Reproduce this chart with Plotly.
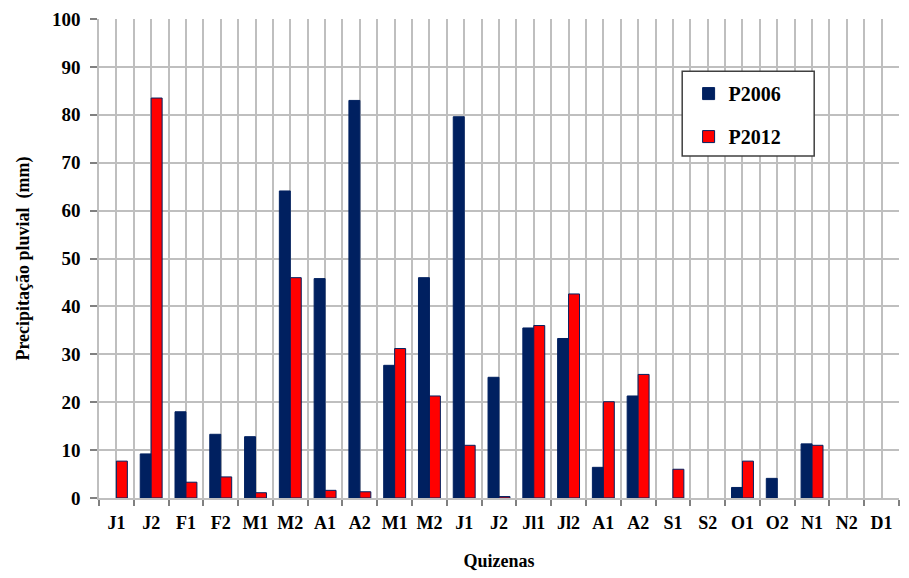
import plotly.graph_objects as go

labels = ["J1", "J2", "F1", "F2", "M1", "M2", "A1", "A2", "M1", "M2", "J1", "J2",
          "Jl1", "Jl2", "A1", "A2", "S1", "S2", "O1", "O2", "N1", "N2", "D1"]
p2006 = [None, 9.2, 18.0, 13.3, 12.8, 64.1, 45.8, 83.0, 27.7, 46.0, 79.6, 25.2,
         35.5, 33.3, 6.4, 21.3, None, None, 2.2, 4.1, 11.3, None, None]
p2012 = [7.7, 83.5, 3.3, 4.4, 1.1, 46.0, 1.6, 1.3, 31.2, 21.3, 11.0, 0.3,
         36.0, 42.6, 20.1, 25.8, 6.0, None, 7.7, None, 11.0, None, None]
y_ticks = [0, 10, 20, 30, 40, 50, 60, 70, 80, 90, 100]

idx = list(range(len(labels)))
FONT = "Liberation Serif"
NAVY = "#002060"
RED = "#FF0000"
GRID = "#BFBFBF"

fig = go.Figure()
fig.add_trace(go.Bar(x=idx, y=p2006, name="P2006", legendgroup="a",
                     marker=dict(color=NAVY, line=dict(color=NAVY, width=1))))
fig.add_trace(go.Bar(x=idx, y=p2012, name="P2012", legendgroup="b",
                     marker=dict(color=RED, line=dict(color=NAVY, width=1))))

fig.update_layout(
    width=909, height=578,
    margin=dict(l=99, r=10, t=19, b=80, autoexpand=False),
    paper_bgcolor="white", plot_bgcolor="white",
    barmode="group", bargap=0.37, bargroupgap=0,
    font=dict(family=FONT, color="black", size=17, weight="bold"),
    showlegend=True,
    legend=dict(x=0.737, y=0.885, xanchor="left", yanchor="top",
                bgcolor="rgba(0,0,0,0)", borderwidth=0,
                font=dict(family=FONT, size=20, color="black", weight="bold"),
                tracegroupgap=14, traceorder="grouped"),
    shapes=[dict(type="rect", xref="paper", yref="paper",
                 x0=0.729, x1=0.894, y0=0.714, y1=0.891,
                 line=dict(color="#404040", width=1.5), fillcolor="white",
                 layer="above")],
)

fig.update_xaxes(
    type="linear", range=[-0.5, len(labels) - 0.5], automargin=False,
    tickmode="array", tickvals=idx, ticktext=labels, ticks="",
    ticklabelstandoff=8,
    tickfont=dict(family=FONT, size=18, color="black", weight="bold"),
    showgrid=True, gridcolor=GRID, gridwidth=1.5,
    showline=True, linecolor=GRID, linewidth=1.5, mirror=False,
    zeroline=False,
    minor=dict(tick0=-0.5, dtick=1, ticks="outside", ticklen=6, tickcolor="#808080",
               tickwidth=1.5, showgrid=True, gridcolor=GRID, gridwidth=1.5),
    title=dict(text="Quizenas", standoff=22,
               font=dict(family=FONT, size=18, color="black", weight="bold")),
)

fig.update_yaxes(
    range=[0, 100], tickmode="array", tickvals=y_ticks, automargin=False,
    ticks="outside", ticklen=7, tickcolor="#808080", tickwidth=1.5,
    ticklabelstandoff=6,
    tickfont=dict(family=FONT, size=19, color="black", weight="bold"),
    showgrid=True, gridcolor=GRID, gridwidth=1.5,
    showline=True, linecolor=GRID, linewidth=1.5,
    zeroline=False,
    title=dict(text="Precipitação pluvial  (mm)", standoff=18,
               font=dict(family=FONT, size=18, color="black", weight="bold")),
)

fig.write_html("out.html", config={"displayModeBar": False},
               post_script="document.body.style.margin='0px';")
